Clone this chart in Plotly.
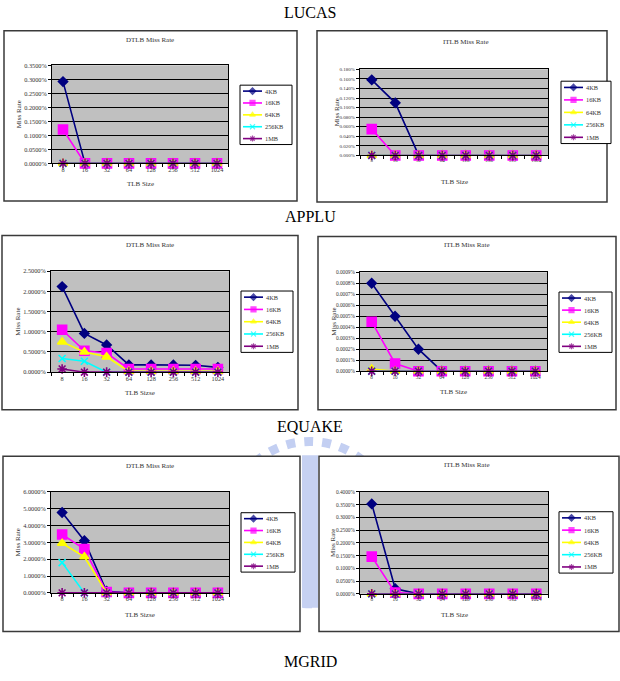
import plotly.graph_objects as go

W, H = 620, 681

# ---------------- data (miss rate in percent) ----------------
categories = ["8", "16", "32", "64", "128", "256", "512", "1024"]
series_names = ["4KB", "16KB", "64KB", "256KB", "1MB"]

lucas_dtlb_4kb = [0.292, 0, 0, 0, 0, 0, 0, 0]
lucas_dtlb_16kb = [0.121, 0, 0, 0, 0, 0, 0, 0]
lucas_dtlb_64kb = [0, 0, 0, 0, 0, 0, 0, 0]
lucas_dtlb_256kb = [0, 0, 0, 0, 0, 0, 0, 0]
lucas_dtlb_1mb = [0, 0, 0, 0, 0, 0, 0, 0]

lucas_itlb_4kb = [0.158, 0.110, 0, 0, 0, 0, 0, 0]
lucas_itlb_16kb = [0.055, 0, 0, 0, 0, 0, 0, 0]
lucas_itlb_64kb = [0, 0, 0, 0, 0, 0, 0, 0]
lucas_itlb_256kb = [0, 0, 0, 0, 0, 0, 0, 0]
lucas_itlb_1mb = [0, 0, 0, 0, 0, 0, 0, 0]

applu_dtlb_4kb = [2.12, 0.96, 0.675, 0.18, 0.18, 0.18, 0.17, 0.12]
applu_dtlb_16kb = [1.05, 0.53, 0.475, 0.08, 0.08, 0.08, 0.08, 0.08]
applu_dtlb_64kb = [0.75, 0.50, 0.38, 0.02, 0.02, 0.02, 0.02, 0.02]
applu_dtlb_256kb = [0.34, 0.27, 0, 0, 0, 0, 0, 0]
applu_dtlb_1mb = [0.08, 0, 0, 0, 0, 0, 0, 0]

applu_itlb_4kb = [0.0008, 0.0005, 0.0002, 0, 0, 0, 0, 0]
applu_itlb_16kb = [0.00045, 0.00007, 0, 0, 0, 0, 0, 0]
applu_itlb_64kb = [0.00002, 0, 0, 0, 0, 0, 0, 0]
applu_itlb_256kb = [0, 0, 0, 0, 0, 0, 0, 0]
applu_itlb_1mb = [0, 0, 0, 0, 0, 0, 0, 0]

equake_dtlb_4kb = [4.78, 3.10, 0.10, 0, 0, 0, 0, 0]
equake_dtlb_16kb = [3.47, 2.60, 0.05, 0, 0, 0, 0, 0]
equake_dtlb_64kb = [2.95, 2.15, 0, 0, 0, 0, 0, 0]
equake_dtlb_256kb = [1.80, 0, 0, 0, 0, 0, 0, 0]
equake_dtlb_1mb = [0, 0, 0, 0, 0, 0, 0, 0]

equake_itlb_4kb = [0.353, 0.020, 0, 0, 0, 0, 0, 0]
equake_itlb_16kb = [0.146, 0.005, 0, 0, 0, 0, 0, 0]
equake_itlb_64kb = [0, 0, 0, 0, 0, 0, 0, 0]
equake_itlb_256kb = [0, 0, 0, 0, 0, 0, 0, 0]
equake_itlb_1mb = [0, 0, 0, 0, 0, 0, 0, 0]

headings = ["LUCAS", "APPLU", "EQUAKE", "MGRID"]

# ---------------- styles ----------------
series_colors = ["#000080", "#FF00FF", "#FFFF00", "#00FFFF", "#800080"]
series_symbols = ["diamond", "square", "triangle-up", "x-thin-open", "asterisk-open"]
series_sizes = [7, 9, 8, 7, 8]
FONT = "Liberation Serif, Times New Roman, serif"
TXT = "#333"

panels = [
    dict(title="DTLB Miss Rate", xtitle="TLB Size",
         data=[lucas_dtlb_4kb, lucas_dtlb_16kb, lucas_dtlb_64kb, lucas_dtlb_256kb, lucas_dtlb_1mb],
         ymax=0.35, dtick=0.05, fmt=".4f", fs=6.3,
         box=(4, 27, 297, 199), plot=(52, 62, 228, 161), leg=(240, 82, 292, 142),
         title_xy=(150, 36), xtitle_y=182, ytitle_x=19),
    dict(title="ITLB Miss Rate", xtitle="TLB Size",
         data=[lucas_itlb_4kb, lucas_itlb_16kb, lucas_itlb_64kb, lucas_itlb_256kb, lucas_itlb_1mb],
         ymax=0.18, dtick=0.02, fmt=".3f", fs=5,
         box=(317, 27, 607, 200), plot=(360, 66, 548, 153), leg=(561, 78, 611, 141),
         title_xy=(466, 38), xtitle_y=180, ytitle_x=337),
    dict(title="DTLB Miss Rate", xtitle="TLB Sizse",
         data=[applu_dtlb_4kb, applu_dtlb_16kb, applu_dtlb_64kb, applu_dtlb_256kb, applu_dtlb_1mb],
         ymax=2.5, dtick=0.5, fmt=".4f", fs=6.3,
         box=(2, 234, 298, 410), plot=(51, 270, 229, 372), leg=(241, 290, 293, 352),
         title_xy=(150, 244), xtitle_y=393, ytitle_x=18),
    dict(title="ITLB Miss Rate", xtitle="TLB Size",
         data=[applu_itlb_4kb, applu_itlb_16kb, applu_itlb_64kb, applu_itlb_256kb, applu_itlb_1mb],
         ymax=0.0009, dtick=0.0001, fmt=".4f", fs=5.3,
         box=(318, 235, 616, 410), plot=(360, 271, 547, 371), leg=(559, 291, 612, 352),
         title_xy=(467, 244), xtitle_y=392, ytitle_x=334),
    dict(title="DTLB Miss Rate", xtitle="TLB Sizse",
         data=[equake_dtlb_4kb, equake_dtlb_16kb, equake_dtlb_64kb, equake_dtlb_256kb, equake_dtlb_1mb],
         ymax=6, dtick=1, fmt=".4f", fs=6.3,
         box=(3, 457, 300, 634), plot=(51, 493, 229, 595), leg=(241, 514, 295, 574),
         title_xy=(150, 467), xtitle_y=617, ytitle_x=18),
    dict(title="ITLB Miss Rate", xtitle="TLB Size",
         data=[equake_itlb_4kb, equake_itlb_16kb, equake_itlb_64kb, equake_itlb_256kb, equake_itlb_1mb],
         ymax=0.4, dtick=0.05, fmt=".4f", fs=5.3,
         box=(319, 457, 619, 634), plot=(360, 493, 548, 596), leg=(559, 513, 613, 575),
         title_xy=(467, 466), xtitle_y=617, ytitle_x=333),
]
heading_y = [9, 215, 427, 664]


def px(x):
    return x / W


def py(y):
    return 1 - y / H


fig = go.Figure()
shapes = []
annotations = []
layout_axes = {}

# faint watermark (mostly hidden behind the chart boxes)
shapes.append(dict(type="circle", xref="paper", yref="paper", layer="below",
                   x0=px(228), x1=px(392), y0=py(606), y1=py(442),
                   line=dict(color="#C3CFF2", width=9, dash="dot")))
shapes.append(dict(type="rect", xref="paper", yref="paper", layer="below",
                   x0=px(302), x1=px(318), y0=py(610), y1=py(456),
                   fillcolor="#C6D1F2", line=dict(width=0)))

# legend marker positions (drawn on a full-page overlay axis)
leg_mx, leg_my, leg_col, leg_sym, leg_size = [], [], [], [], []

for i, p in enumerate(panels):
    n = i + 1
    xa = "x" if n == 1 else f"x{n}"
    ya = "y" if n == 1 else f"y{n}"
    bx0, by0, bx1, by1 = p["box"]
    x0, y0, x1, y1 = p["plot"]
    fs = p["fs"]

    # chart box
    shapes.append(dict(type="rect", xref="paper", yref="paper", layer="below",
                       x0=px(bx0), x1=px(bx1), y0=py(by1), y1=py(by0),
                       fillcolor="white", line=dict(color="#3a3a3a", width=1.5)))
    # plot area fill
    shapes.append(dict(type="rect", xref=f"{xa} domain", yref=f"{ya} domain", layer="below",
                       x0=0, x1=1, y0=0, y1=1, fillcolor="#C0C0C0", line=dict(width=0)))

    for k, name in enumerate(series_names):
        col = series_colors[k]
        fig.add_trace(go.Scatter(
            x=categories, y=p["data"][k], xaxis=xa, yaxis=ya, name=name,
            mode="lines+markers", showlegend=False, cliponaxis=False,
            line=dict(color=col, width=1.6),
            marker=dict(symbol=series_symbols[k], size=series_sizes[k], color=col,
                        line=dict(color=col, width=1.6))))

    axkey = "xaxis" if n == 1 else f"xaxis{n}"
    aykey = "yaxis" if n == 1 else f"yaxis{n}"
    layout_axes[axkey] = dict(
        domain=[px(x0), px(x1)], anchor=ya, type="category", range=[-0.5, 7.5],
        tickson="boundaries", ticks="outside", ticklen=3, tickcolor="black", tickwidth=1,
        tickangle=0, showline=True, linecolor="black", linewidth=1, mirror=True,
        showgrid=False, tickfont=dict(family=FONT, size=fs, color=TXT), fixedrange=True)
    layout_axes[aykey] = dict(
        domain=[py(y1), py(y0)], anchor=xa, range=[0, p["ymax"]], tick0=0, dtick=p["dtick"],
        tickformat=p["fmt"], ticksuffix="%", ticks="outside", ticklen=3, tickcolor="black",
        showline=True, linecolor="black", linewidth=1, mirror=True,
        showgrid=True, gridcolor="black", gridwidth=1, zeroline=False,
        tickfont=dict(family=FONT, size=fs, color=TXT), fixedrange=True)

    # titles
    tx, tyy = p["title_xy"]
    annotations.append(dict(text=p["title"], x=px(tx), y=py(tyy), xref="paper", yref="paper",
                            showarrow=False, xanchor="center", yanchor="middle",
                            font=dict(family=FONT, size=7, color=TXT)))
    annotations.append(dict(text=p["xtitle"], x=px((x0 + x1) / 2), y=py(p["xtitle_y"]),
                            xref="paper", yref="paper", showarrow=False,
                            xanchor="center", yanchor="middle",
                            font=dict(family=FONT, size=7, color=TXT)))
    annotations.append(dict(text="Miss Rate", x=px(p["ytitle_x"]), y=py((y0 + y1) / 2),
                            xref="paper", yref="paper", showarrow=False, textangle=-90,
                            xanchor="center", yanchor="middle",
                            font=dict(family=FONT, size=7, color=TXT)))

    # custom legend box
    lx0, ly0, lx1, ly1 = p["leg"]
    shapes.append(dict(type="rect", xref="paper", yref="paper", layer="below",
                       x0=px(lx0), x1=px(lx1), y0=py(ly1), y1=py(ly0),
                       fillcolor="white", line=dict(color="black", width=1)))
    rowh = (ly1 - ly0) / 5
    for k, name in enumerate(series_names):
        cy = ly0 + rowh * (k + 0.5)
        sx0, sx1 = lx0 + 3, lx0 + 22
        shapes.append(dict(type="line", xref="paper", yref="paper", layer="below",
                           x0=px(sx0), x1=px(sx1), y0=py(cy), y1=py(cy),
                           line=dict(color=series_colors[k], width=1.6)))
        leg_mx.append((sx0 + sx1) / 2)
        leg_my.append(cy)
        leg_col.append(series_colors[k])
        leg_sym.append(series_symbols[k])
        leg_size.append(5)
        annotations.append(dict(text=name, x=px(sx1 + 1), y=py(cy), xref="paper", yref="paper",
                                showarrow=False, xanchor="left", yanchor="middle",
                                font=dict(family=FONT, size=6.3, color=TXT)))

# legend markers on overlay axis
fig.add_trace(go.Scatter(x=leg_mx, y=leg_my, xaxis="x7", yaxis="y7", mode="markers",
                         showlegend=False, hoverinfo="skip",
                         marker=dict(symbol=leg_sym, size=leg_size, color=leg_col,
                                     line=dict(color=leg_col, width=1.2))))
layout_axes["xaxis7"] = dict(domain=[0, 1], range=[0, W], visible=False, anchor="y7",
                             fixedrange=True)
layout_axes["yaxis7"] = dict(domain=[0, 1], range=[H, 0], visible=False, anchor="x7",
                             fixedrange=True)

for h, yy in zip(headings, heading_y):
    annotations.append(dict(text=h, x=0.5, y=py(yy), xref="paper", yref="paper",
                            showarrow=False, xanchor="center", yanchor="middle",
                            font=dict(family=FONT, size=16, color="black")))

fig.update_layout(
    width=W, height=H, margin=dict(l=0, r=0, t=0, b=0),
    paper_bgcolor="white", plot_bgcolor="rgba(0,0,0,0)",
    showlegend=False, shapes=shapes, annotations=annotations, **layout_axes)

fig.write_html("out.html")
